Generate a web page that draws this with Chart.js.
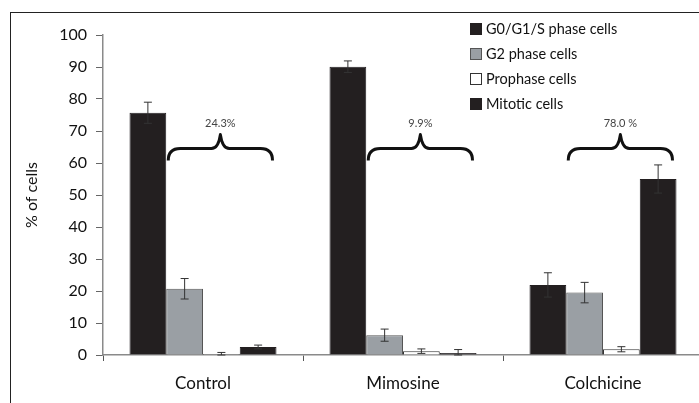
<!DOCTYPE html>
<html lang="en">
  <head>
    <meta charset="UTF-8" />
    <title>Cell phase chart</title>
    <script src="https://cdn.jsdelivr.net/npm/chart.js"></script>
    <style>
      html, body { margin: 0; padding: 0; width: 699px; height: 403px; overflow: hidden; background: #fff; }
      #frame { position: absolute; left: 10px; top: 12px; width: 760px; height: 460px;
               border-left: 1.5px solid #222; border-top: 1.5px solid #222; }
      #wrap { position: absolute; left: 0; top: 0; width: 705px; height: 403px; }
    </style>
  </head>
  <body>
    <div id="frame"></div>
    <div id="wrap"><canvas id="myChart"></canvas></div>
    <script>
      const categories = ["Control", "Mimosine", "Colchicine"];
      const seriesNames = ["G0/G1/S phase cells", "G2 phase cells", "Prophase cells", "Mitotic cells"];
      const g0Values = [75.7, 90.1, 21.9];
      const g0Errors = [3.3, 1.8, 3.8];
      const g2Values = [20.7, 6.2, 19.5];
      const g2Errors = [3.2, 1.9, 3.2];
      const prophaseValues = [0.3, 1.2, 1.8];
      const prophaseErrors = [0.5, 0.7, 0.8];
      const mitoticValues = [2.5, 0.6, 55.0];
      const mitoticErrors = [0.6, 1.1, 4.4];
      const braceLabels = ["24.3%", "9.9%", "78.0 %"];
      const yTicks = [0, 10, 20, 30, 40, 50, 60, 70, 80, 90, 100];

      const FONT = "Lato";
      const BRACE_LEVEL = 64.5;

      const styles = [
        { bg: "#231f20", border: "#231f20" },
        { bg: "#9a9fa4", border: "#555" },
        { bg: "#ffffff", border: "#333" },
        { bg: "#231f20", border: "#231f20" },
      ];
      const values = [g0Values, g2Values, prophaseValues, mitoticValues];
      const errors = [g0Errors, g2Errors, prophaseErrors, mitoticErrors];

      const errorBars = {
        id: "errorBars",
        afterDatasetsDraw(chart) {
          const ctx = chart.ctx;
          const y = chart.scales.y;
          ctx.save();
          ctx.strokeStyle = "#333";
          ctx.lineWidth = 1;
          chart.data.datasets.forEach((ds, i) => {
            chart.getDatasetMeta(i).data.forEach((bar, j) => {
              const v = ds.data[j], e = errors[i][j];
              const top = y.getPixelForValue(v + e);
              const bot = y.getPixelForValue(Math.max(0, v - e));
              ctx.beginPath();
              ctx.moveTo(bar.x, top); ctx.lineTo(bar.x, bot);
              ctx.moveTo(bar.x - 4, top); ctx.lineTo(bar.x + 4, top);
              ctx.moveTo(bar.x - 4, bot); ctx.lineTo(bar.x + 4, bot);
              ctx.stroke();
            });
          });
          ctx.restore();
        },
      };

      const braces = {
        id: "braces",
        afterDatasetsDraw(chart) {
          const ctx = chart.ctx;
          const yy = chart.scales.y.getPixelForValue(BRACE_LEVEL);
          const m1 = chart.getDatasetMeta(1), m3 = chart.getDatasetMeta(3);
          ctx.save();
          categories.forEach((c, j) => {
            const b1 = m1.data[j], b3 = m3.data[j];
            const x0 = b1.x - b1.width / 2 + 2;
            const x1 = b3.x + b3.width / 2 - 4;
            const mid = (x0 + x1) / 2;
            ctx.strokeStyle = "#111";
            ctx.lineWidth = 3;
            ctx.lineCap = "butt";
            ctx.lineJoin = "round";
            ctx.beginPath();
            ctx.moveTo(x0, yy + 12);
            ctx.quadraticCurveTo(x0, yy, x0 + 12, yy);
            ctx.lineTo(mid - 9, yy);
            ctx.quadraticCurveTo(mid - 2, yy, mid, yy - 14);
            ctx.quadraticCurveTo(mid + 2, yy, mid + 9, yy);
            ctx.lineTo(x1 - 12, yy);
            ctx.quadraticCurveTo(x1, yy, x1, yy + 12);
            ctx.stroke();
            ctx.fillStyle = "#444";
            ctx.font = "11px " + FONT;
            ctx.textAlign = "center";
            ctx.textBaseline = "middle";
            ctx.fillText(braceLabels[j], mid, yy - 25);
          });
          ctx.restore();
        },
      };

      const sideLegend = {
        id: "sideLegend",
        afterDraw(chart) {
          const ctx = chart.ctx;
          ctx.save();
          ctx.font = "14.5px " + FONT;
          ctx.textBaseline = "middle";
          ctx.textAlign = "left";
          seriesNames.forEach((name, i) => {
            const cy = 29 + i * 25;
            ctx.fillStyle = styles[i].bg;
            ctx.fillRect(470, cy - 6, 12, 12);
            ctx.strokeStyle = styles[i].border;
            ctx.lineWidth = 1;
            ctx.strokeRect(470.5, cy - 5.5, 11, 11);
            ctx.fillStyle = "#111";
            ctx.fillText(name, 486, cy);
          });
          ctx.restore();
        },
      };

      const data = {
        labels: categories,
        datasets: seriesNames.map((name, i) => ({
          label: name,
          data: values[i],
          backgroundColor: styles[i].bg,
          borderColor: styles[i].border,
          borderWidth: 1,
          categoryPercentage: 0.735,
          barPercentage: 1,
        })),
      };

      const config = {
        type: "bar",
        data: data,
        options: {
          responsive: true,
          maintainAspectRatio: false,
          animation: false,
          layout: { padding: { left: 0, right: 2, top: 35, bottom: 0 } },
          plugins: { legend: { display: false }, tooltip: { enabled: false } },
          scales: {
            x: {
              grid: { drawOnChartArea: false, tickLength: 6, color: "#555" },
              border: { color: "#8a8a8a", width: 1.5 },
              ticks: { font: { family: FONT, size: 17 }, color: "#111", padding: 12 },
              afterFit: (s) => { s.height = 48; },
            },
            y: {
              min: 0,
              max: 100,
              afterBuildTicks: (s) => { s.ticks = yTicks.map((v) => ({ value: v })); },
              grid: { drawOnChartArea: false, tickLength: 7, color: "#666" },
              border: { color: "#8a8a8a", width: 1.5 },
              ticks: { font: { family: FONT, size: 16 }, color: "#111", padding: 9 },
              title: {
                display: true,
                text: "% of cells",
                font: { family: FONT, size: 16 },
                color: "#111",
                padding: { top: 22, bottom: 0 },
              },
              afterFit: (s) => { s.width = 103; },
            },
          },
        },
        plugins: [errorBars, braces, sideLegend],
      };
      const myChart = new Chart(document.getElementById("myChart"), config);
    </script>
  </body>
</html>
